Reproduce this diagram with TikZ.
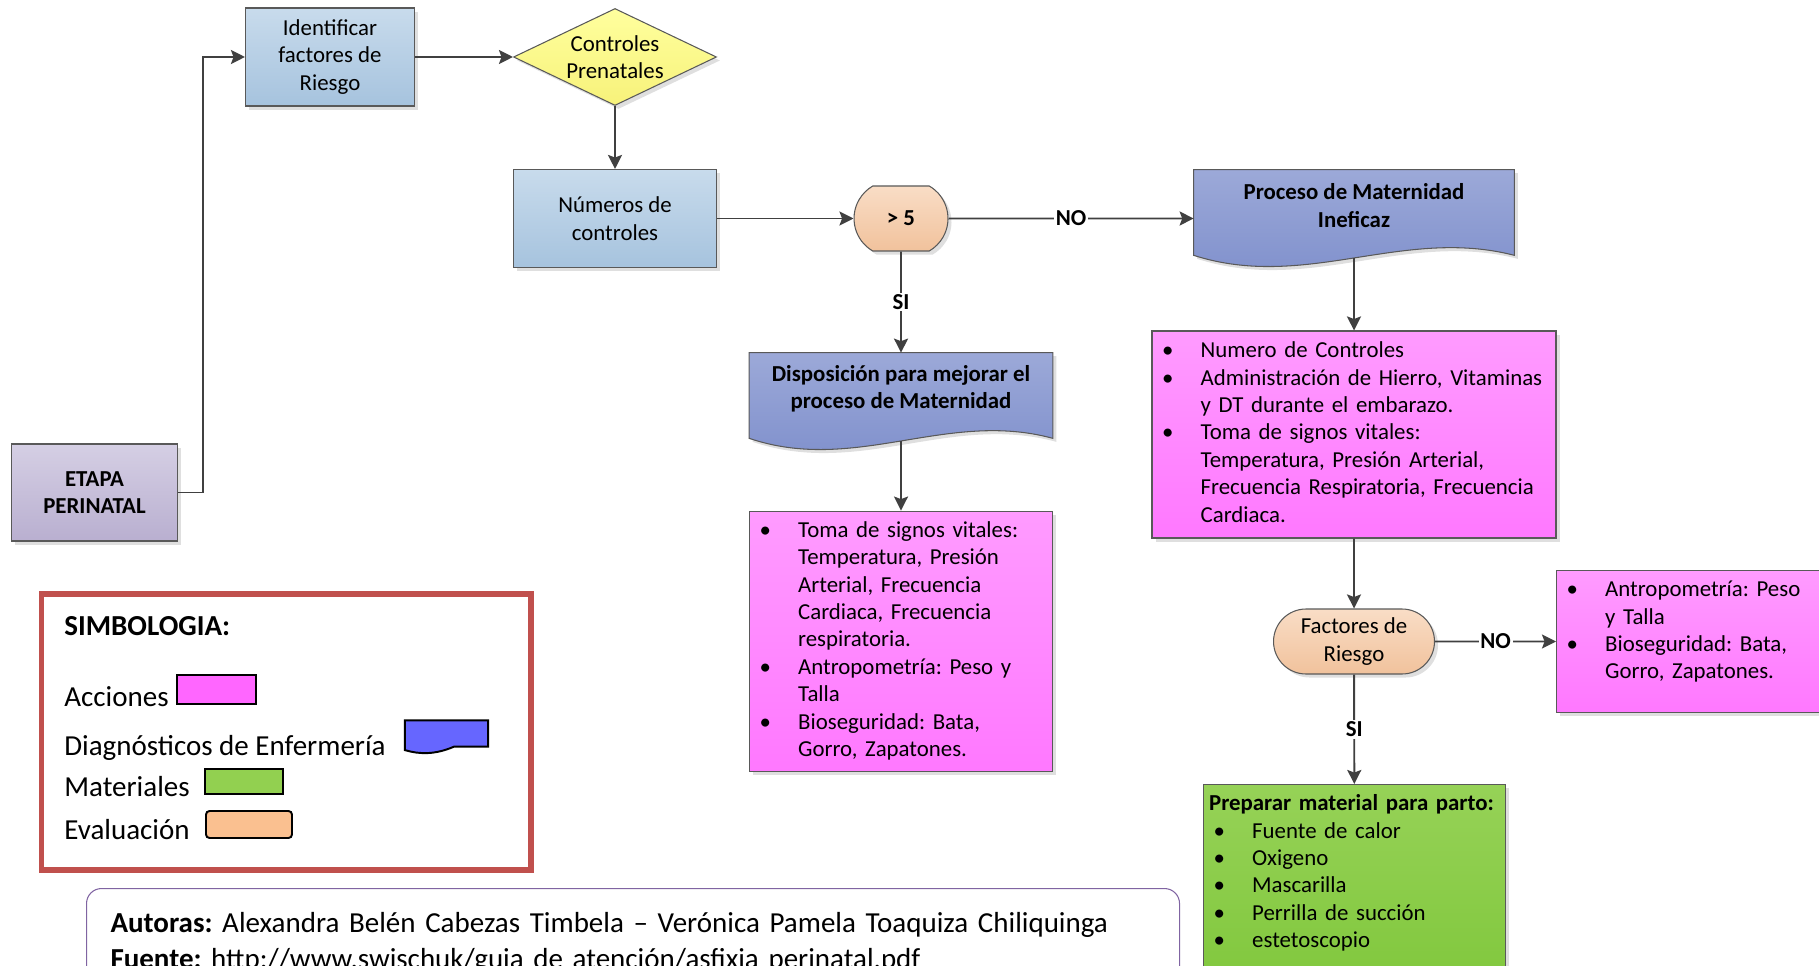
\documentclass[tikz,border=0pt]{standalone}
\usepackage{fontspec}
\setmainfont{Carlito}
\usepackage{tikz}
\usetikzlibrary{shapes.geometric, shapes.misc, arrows.meta, shadows, backgrounds, calc}
\usepackage{xcolor}
\frenchspacing

\definecolor{blueT}{HTML}{C8DBEC}
\definecolor{blueB}{HTML}{A6C3DE}
\definecolor{yelT}{HTML}{FFFF9E}
\definecolor{yelB}{HTML}{F7F27A}
\definecolor{orgT}{HTML}{F9DDC6}
\definecolor{orgB}{HTML}{F1C29C}
\definecolor{diaT}{HTML}{9CA9D8}
\definecolor{diaB}{HTML}{7C8DCB}
\definecolor{pinkT}{HTML}{FF9BFF}
\definecolor{pinkB}{HTML}{FF78FF}
\definecolor{grnT}{HTML}{96D257}
\definecolor{grnB}{HTML}{80C73C}
\definecolor{lavT}{HTML}{D5CFE4}
\definecolor{lavB}{HTML}{B9AFD0}
\definecolor{edgegray}{HTML}{404040}
\definecolor{boxline}{HTML}{595959}
\definecolor{legred}{HTML}{C0504D}
\definecolor{autpurple}{HTML}{8064A2}
\definecolor{swpink}{HTML}{FF66FF}
\definecolor{swblue}{HTML}{6666FF}
\definecolor{swgreen}{HTML}{92D050}
\definecolor{sworange}{HTML}{FAC090}

\newcommand{\itm}{\textbullet}
\newenvironment{blist}{\begin{tabular}[t]{@{}p{22pt}@{}l@{}}}{\end{tabular}}

\begin{document}
\begin{tikzpicture}[>={Stealth[length=8pt,width=8pt,inset=1.5pt]},
                    txt/.style={font=\fontsize{13}{15.6}\selectfont},
                    shd/.style={drop shadow={shadow xshift=2pt,shadow yshift=-2pt,opacity=0.25}},
                    caja/.style={txt, shd, draw=boxline, line width=0.6pt, align=center, inner sep=2pt},
                    tarea/.style={caja, rectangle, top color=blueT, bottom color=blueB},
                    inicio/.style={caja, rectangle, font=\fontsize{13}{15.6}\selectfont\bfseries, top color=lavT, bottom color=lavB},
                    decision/.style={caja, diamond, aspect=2.1, inner sep=-3pt, top color=yelT, bottom color=yelB},
                    evaluacion/.style={caja, rounded rectangle, top color=orgT, bottom color=orgB},
                    diagtxt/.style={txt, font=\fontsize{13}{15.6}\selectfont\bfseries, align=center},
                    diagnostico/.style={shd, draw=boxline, line width=0.6pt, top color=diaT, bottom color=diaB},
                    accion/.style={caja, rectangle, align=left, inner xsep=0.2cm, inner ysep=4pt, top color=pinkT, bottom color=pinkB},
                    material/.style={accion, top color=grnT, bottom color=grnB},
                    flujo/.style={->, color=edgegray, line width=1.1pt},
                    rotulo/.style={fill=white, text=black, inner sep=1pt, font=\fontsize{13}{15.6}\selectfont\bfseries},
                    lgd/.style={font=\fontsize{16.5}{20}\selectfont, inner sep=0pt, anchor=base west},
                    swatch/.style={draw=black, line width=1.1pt, inner sep=0pt}]

    \useasboundingbox (0,0) rectangle (36.38,-19.32);

    % main flow
    \node[inicio, minimum width=3.33cm, minimum height=1.94cm] (etapa) at (1.89,-9.85) {ETAPA\\PERINATAL};
    \node[tarea, minimum width=3.38cm, minimum height=1.96cm] (ident) at (6.60,-1.14) {Identificar\\factores de\\Riesgo};
    \node[decision, minimum width=4.06cm, minimum height=1.94cm] (ctrl) at (12.30,-1.14) {Controles\\Prenatales};
    \node[tarea, minimum width=4.06cm, minimum height=1.96cm] (num) at (12.30,-4.37) {Números de\\controles};
    \node[evaluacion, rounded rectangle arc length=120, font=\fontsize{13}{15.6}\selectfont\bfseries,
          minimum width=2.02cm, minimum height=1.30cm] (gt5) at (18.02,-4.37) {> 5};

    \node[diagtxt, minimum width=6.40cm, minimum height=1.42cm] (ineficaz) at (27.08,-4.11) {Proceso de Maternidad\\Ineficaz};
    \node[diagtxt, minimum width=6.06cm, minimum height=1.42cm] (dispos) at (18.02,-7.77) {Disposición para mejorar el\\proceso de Maternidad};

    \node[accion, text width=5.66cm, minimum height=5.18cm] (acc1) at (18.02,-12.83) {\begin{blist}
        \itm & Toma de signos vitales:\\
             & Temperatura, Presión\\
             & Arterial, Frecuencia\\
             & Cardiaca, Frecuencia\\
             & respiratoria.\\
        \itm & Antropometría: Peso y\\
             & Talla\\
        \itm & Bioseguridad: Bata,\\
             & Gorro, Zapatones.
      \end{blist}};
    \node[accion, text width=7.68cm, minimum height=4.14cm] (acc2) at (27.08,-8.69) {\begin{blist}
        \itm & Numero de Controles\\
        \itm & Administración de Hierro, Vitaminas\\
             & y DT durante el embarazo.\\
        \itm & Toma de signos vitales:\\
             & Temperatura, Presión Arterial,\\
             & Frecuencia Respiratoria, Frecuencia\\
             & Cardiaca.
      \end{blist}};
    \node[evaluacion, minimum width=3.36cm, minimum height=1.30cm] (factor) at (27.08,-12.83) {Factores de\\Riesgo};
    \node[accion, anchor=north west, text width=5.1cm, text depth=61.6pt] (acc3) at (31.12,-11.40) {\begin{blist}
        \itm & Antropometría: Peso\\
             & y Talla\\
        \itm & Bioseguridad: Bata,\\
             & Gorro, Zapatones.
      \end{blist}};
    \node[material, anchor=north west, text width=5.64cm, text depth=100pt] (mater) at (24.06,-15.68) {\begin{blist}
        \multicolumn{2}{@{}l@{}}{\hspace*{-2.5pt}\bfseries Preparar material para parto:}\\
        \itm & Fuente de calor\\
        \itm & Oxigeno\\
        \itm & Mascarilla\\
        \itm & Perrilla de succión\\
        \itm & estetoscopio
      \end{blist}};

    % document shapes behind the diagnosis texts
    \begin{scope}[on background layer]
      \foreach \n in {ineficaz, dispos}
        \path[diagnostico] (\n.north west) -- (\n.north east) -- ([yshift=-0.28cm]\n.south east)
          .. controls ($(\n.south west)!0.65!(\n.south east)+(0,0.3)$) and ($(\n.south west)!0.35!(\n.south east)+(0,-1.0)$)
          .. ([yshift=-0.28cm]\n.south west) -- cycle;
    \end{scope}

    \draw[flujo] (etapa.east) -- ++(0.5,0) |- (ident.west);
    \path[flujo]
    (ident) edge (ctrl)
    (ctrl) edge (num)
    (num) edge (gt5)
    (gt5) edge node[rotulo] {NO} (gt5 -| ineficaz.west)
    (gt5) edge node[rotulo] {SI} (dispos)
    ([yshift=-0.33cm]ineficaz.south) edge (acc2)
    ([yshift=-0.33cm]dispos.south) edge (acc1)
    (acc2) edge (factor)
    (factor) edge node[rotulo] {NO} (factor -| acc3.west)
    (factor) edge node[rotulo] {SI} (mater);

    % legend
    \node[draw=legred, line width=3.4pt, minimum width=9.79cm, minimum height=5.52cm] (simb) at (5.725,-14.64) {};
    \node[lgd, font=\fontsize{16.5}{20}\selectfont\bfseries] (ltit) at (1.28,-12.70) {SIMBOLOGIA:};
    \node[lgd] (lacc) at (1.28,-14.12) {Acciones};
    \node[lgd] (ldia) at (1.28,-15.10) {Diagnósticos de Enfermería};
    \node[lgd] (lmat) at (1.28,-15.93) {Materiales};
    \node[lgd] (leva) at (1.28,-16.78) {Evaluación};
    \node[swatch, fill=swpink, minimum width=1.59cm, minimum height=0.58cm] (sacc) at (4.33,-13.79) {};
    \node[inner sep=0pt, minimum width=1.65cm, minimum height=0.51cm] (sdia) at (8.93,-14.67) {};
    \draw[swatch, fill=swblue] (sdia.north west) -- (sdia.north east) -- (sdia.south east) -- ([xshift=-0.68cm]sdia.south east)
      .. controls ([xshift=-1.05cm,yshift=-0.16cm]sdia.south east) and ([xshift=0.3cm,yshift=-0.16cm]sdia.south west)
      .. ([yshift=-0.07cm]sdia.south west) -- cycle;
    \node[swatch, fill=swgreen, minimum width=1.57cm, minimum height=0.50cm] (smat) at (4.88,-15.63) {};
    \node[swatch, fill=sworange, rounded corners=2pt, minimum width=1.72cm, minimum height=0.54cm] (seva) at (4.98,-16.49) {};

    % authors
    \node[draw=autpurple, line width=0.6pt, rounded corners=0.3cm, inner sep=0.48cm, align=left,
          font=\fontsize{16.5}{20.3}\selectfont, anchor=north west, text width=20.9cm] (autores) at (1.72,-17.76)
          {\textbf{Autoras:} Alexandra Belén Cabezas Timbela – Verónica Pamela Toaquiza Chiliquinga\\
           \textbf{Fuente:} http://www.swischuk/guia de atención/asfixia perinatal.pdf};
\end{tikzpicture}
\end{document}
